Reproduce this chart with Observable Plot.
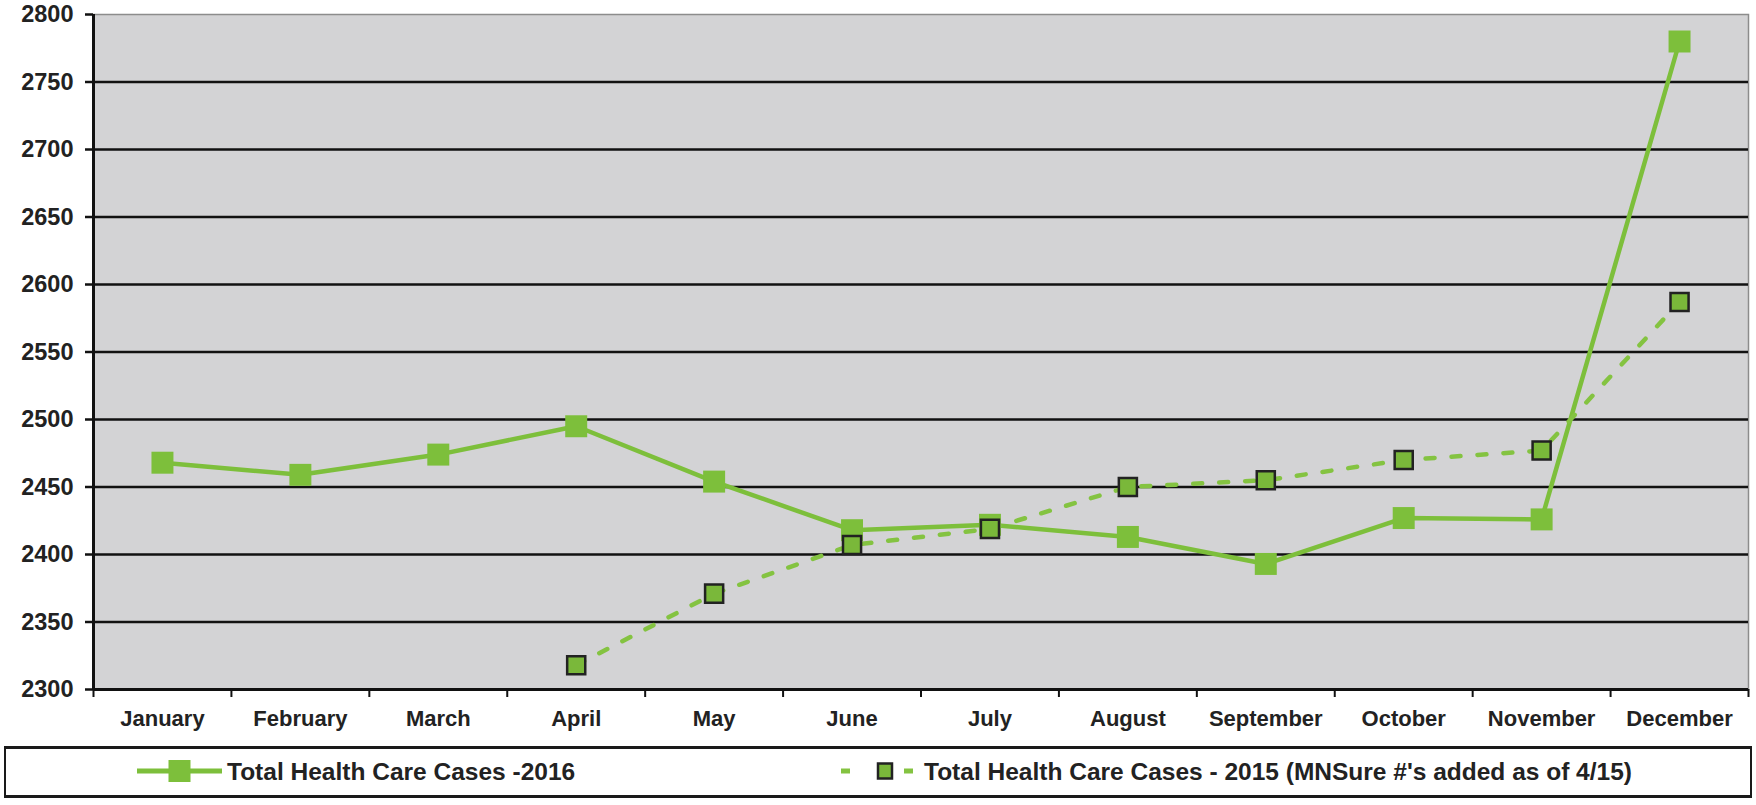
<!DOCTYPE html>
<html>
<head>
<meta charset="utf-8">
<script src="https://cdn.jsdelivr.net/npm/d3@7"></script>
<script src="https://cdn.jsdelivr.net/npm/@observablehq/plot@0.6"></script>
<style>
  html, body { margin: 0; padding: 0; background: #fff; }
  body { position: relative; width: 1756px; height: 805px; overflow: hidden; font-family: "Liberation Sans", Arial, sans-serif; }
  #chart { position: absolute; left: 0; top: 0; }
  #legend { position: absolute; left: 4px; top: 746px; width: 1748px; height: 52px; box-sizing: border-box;
            border: 2px solid #1a1a1a; border-top-width: 3px; border-bottom-width: 3px; background: #fff; }
  .lg-text { position: absolute; top: 50%; transform: translateY(-50%); font-weight: bold; font-size: 24.5px; color: #222; white-space: nowrap; }
  .lg-swatch { position: absolute; top: 0; }
</style>
</head>
<body>
<div id="chart"></div>
<div id="legend">
  <svg class="lg-swatch" width="120" height="46" style="left:126px">
    <line x1="5" x2="90" y1="22" y2="22" stroke="#7dbf3b" stroke-width="5"/>
    <rect x="36.5" y="11" width="22" height="22" fill="#7dbf3b"/>
  </svg>
  <div class="lg-text" style="left:221px">Total Health Care Cases -2016</div>
  <svg class="lg-swatch" width="90" height="46" style="left:829px">
    <line x1="6" x2="15" y1="22" y2="22" stroke="#84c341" stroke-width="5"/>
    <rect x="43" y="14.5" width="14" height="15" fill="#7ab83a" stroke="#222" stroke-width="2.5"/>
    <line x1="69" x2="78" y1="22" y2="22" stroke="#84c341" stroke-width="5"/>
  </svg>
  <div class="lg-text" style="left:918px">Total Health Care Cases - 2015 (MNSure #'s added as of 4/15)</div>
</div>
<script>
// ---- data ----
const months = ["January", "February", "March", "April", "May", "June", "July", "August", "September", "October", "November", "December"];
const cases2016 = [2468, 2459, 2474, 2495, 2454, 2418, 2422, 2413, 2393, 2427, 2426, 2780];
const cases2015 = [null, null, null, 2318, 2371, 2407, 2419, 2450, 2455, 2470, 2477, 2587];
const yTicks = [2300, 2350, 2400, 2450, 2500, 2550, 2600, 2650, 2700, 2750, 2800];

const d16 = months.map((m, i) => ({month: m, x: i + 0.5, v: cases2016[i]}));
const d15 = months.map((m, i) => ({month: m, x: i + 0.5, v: cases2015[i]})).filter(d => d.v != null);

const green16 = "#7dbf3b";
const green15 = "#84c341";

const chart = Plot.plot({
  width: 1756,
  height: 742,
  marginTop: 14,
  marginBottom: 53,
  marginLeft: 93,
  marginRight: 8,
  style: {fontFamily: "Liberation Sans, Arial, sans-serif", fontWeight: "bold", color: "#222", background: "transparent", overflow: "visible"},
  x: {domain: [0, 12], axis: null},
  y: {domain: [2300, 2800], axis: null},
  marks: [
    Plot.frame({fill: "#d3d3d5", stroke: "#8c8c8c", strokeWidth: 1.5}),
    Plot.ruleY(yTicks.filter(v => v > 2300 && v < 2800), {stroke: "#111", strokeWidth: 2.5}),
    Plot.ruleY([2300], {stroke: "#111", strokeWidth: 3}),
    Plot.ruleX([0], {stroke: "#111", strokeWidth: 3}),
    Plot.axisY({ticks: yTicks, label: null, tickSize: 8, tickPadding: 12, fontSize: 23.5, stroke: "#111", strokeWidth: 2.5, fill: "#222", tickFormat: d => String(d)}),
    Plot.axisX({ticks: d3.range(13), label: null, tickSize: 8, stroke: "#111", strokeWidth: 2, tickFormat: () => ""}),
    Plot.axisX({ticks: months.map((m, i) => i + 0.5), label: null, tickSize: 0, tickPadding: 21, fontSize: 22, fill: "#222",
                tickFormat: d => months[Math.floor(d)]}),
    Plot.line(d16, {x: "x", y: "v", stroke: green16, strokeWidth: 4.5}),
    Plot.dot(d16, {x: "x", y: "v", symbol: "square", r: 12.4, fill: green16, stroke: "none"}),
    Plot.line(d15, {x: "x", y: "v", stroke: green15, strokeWidth: 4.5, strokeDasharray: "9,17"}),
    Plot.dot(d15, {x: "x", y: "v", symbol: "square", r: 10.2, fill: "#7ab83a", stroke: "#222", strokeWidth: 2.5})
  ]
});
document.getElementById("chart").appendChild(chart);
</script>
</body>
</html>
